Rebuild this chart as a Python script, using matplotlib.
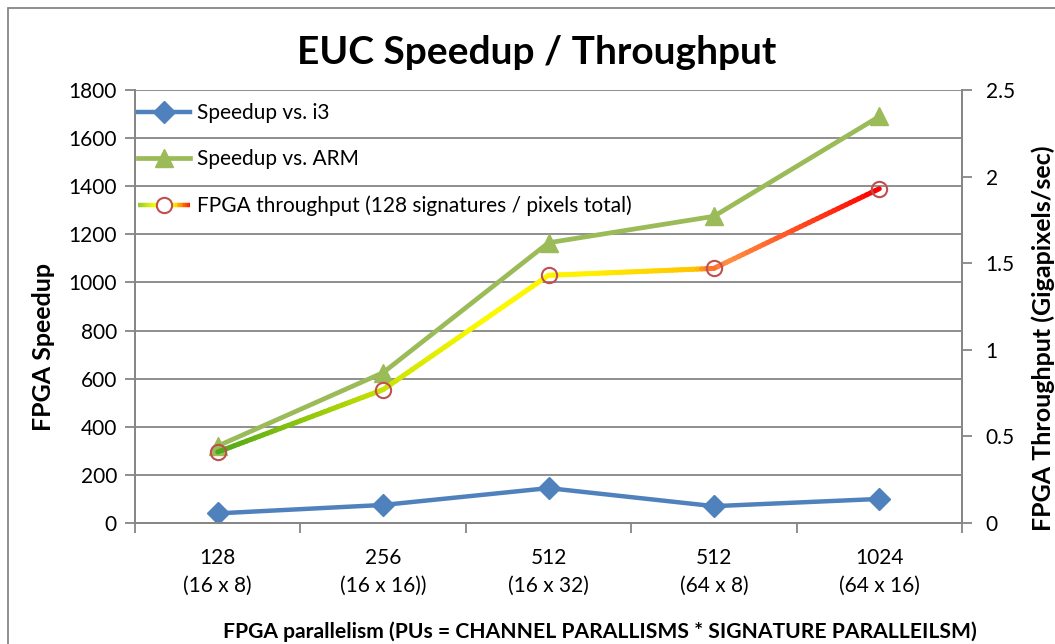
import numpy as np
import matplotlib
matplotlib.use("Agg")
import matplotlib.pyplot as plt
from matplotlib.collections import LineCollection
from matplotlib.colors import LinearSegmentedColormap
from matplotlib.legend_handler import HandlerBase
from matplotlib.lines import Line2D
from matplotlib.patches import Rectangle

plt.rcParams['font.family'] = ['Lato', 'DejaVu Sans']

categories = ["128\n(16 x 8)", "256\n(16 x 16))", "512\n(16 x 32)", "512\n(64 x 8)", "1024\n(64 x 16)"]
speedup_i3 = [40, 75, 145, 70, 100]
speedup_arm = [320, 625, 1165, 1275, 1690]
throughput = [0.41, 0.77, 1.43, 1.47, 1.93]

BLUE = "#4f81bd"
GREEN = "#9bbb59"
CIRCLE = "#c0504d"
GRID = "#868686"
FS = 15
W, H = 1055, 644

# colour ramp along the x axis for the throughput line
ramp = LinearSegmentedColormap.from_list("ramp", [
    (0.0, "#3e9a1c"), (0.1, "#4ea61a"), (0.3, "#c8e200"), (0.42, "#fafa00"),
    (0.55, "#fff000"), (0.68, "#ffc400"), (0.7, "#ff6a30"), (0.72, "#ff9040"),
    (0.9, "#ff0000"), (1.0, "#ff0000")])
legend_ramp = LinearSegmentedColormap.from_list("leg", ["#9acd32", "#ffff00", "#ffff00", "#ff2000"])


def gradient_segments(x, y, steps=40):
    segs, pos = [], []
    for i in range(len(x) - 1):
        t = np.linspace(0, 1, steps + 1)
        xs = x[i] + (x[i + 1] - x[i]) * t
        ys = y[i] + (y[i + 1] - y[i]) * t
        for j in range(steps):
            segs.append([(xs[j], ys[j]), (xs[j + 1], ys[j + 1])])
            pos.append((xs[j] + xs[j + 1]) / 2)
    return segs, np.array(pos)


class GradientHandler(HandlerBase):
    def create_artists(self, legend, orig_handle, xdescent, ydescent,
                       width, height, fontsize, trans):
        n = 30
        xs = np.linspace(-xdescent, width - xdescent, n + 1)
        yc = height / 2 - ydescent
        segs = [[(xs[i], yc), (xs[i + 1], yc)] for i in range(n)]
        lc = LineCollection(segs, colors=legend_ramp(np.linspace(0, 1, n)),
                            linewidths=3.2, transform=trans, capstyle='butt')
        mk = Line2D([width / 2 - xdescent], [yc], marker='o', ms=11, mfc='white',
                    mec=CIRCLE, mew=1.5, ls='none', transform=trans)
        return [lc, mk]


fig = plt.figure(figsize=(W / 100, H / 100), dpi=100)
ax = fig.add_axes([135 / W, 1 - 523 / H, (962 - 135) / W, (523 - 90) / H])
ax2 = ax.twinx()

x = np.arange(len(categories))
ax.set_xlim(-0.5, len(categories) - 0.5)
ax.set_ylim(0, 1800)
ax2.set_ylim(0, 2.5)

ax.set_yticks(np.arange(0, 1801, 200))
ax2.set_yticks([0, 0.5, 1, 1.5, 2, 2.5])
ax2.set_yticklabels(["0", "0.5", "1", "1.5", "2", "2.5"])
ax.set_xticks(x)
ax.set_xticklabels(categories)
ax.set_xticks(np.arange(len(categories) + 1) - 0.5, minor=True)

ax.grid(axis='y', color=GRID, lw=1.3)
ax.set_axisbelow(True)
for a in (ax, ax2):
    a.spines['top'].set_visible(False)
    for s in ('left', 'right', 'bottom'):
        a.spines[s].set_color(GRID)
        a.spines[s].set_linewidth(1.3)
ax.tick_params(axis='y', length=7, width=1.3, color=GRID, labelsize=FS, pad=6)
ax2.tick_params(axis='y', length=7, width=1.3, color=GRID, labelsize=FS, pad=10)
ax.tick_params(axis='x', which='major', length=0, labelsize=FS, pad=18)
ax.tick_params(axis='x', which='minor', length=7, width=1.3, color=GRID)
for lbl in ax.get_xticklabels():
    lbl.set_linespacing(1.5)

h1, = ax.plot(x, speedup_i3, color=BLUE, lw=3.2, marker='D', ms=11, label="Speedup vs. i3")
h2, = ax.plot(x, speedup_arm, color=GREEN, lw=3.4, marker='^', ms=13, label="Speedup vs. ARM")

segs, pos = gradient_segments(x, throughput)
frac = (pos + 0.5) / len(categories)
ax2.add_collection(LineCollection(segs, colors=ramp(frac), linewidths=3.6, capstyle='round'))
ax2.plot(x, throughput, ls='none', marker='o', ms=11, mfc='none', mec=CIRCLE, mew=1.5)

h3 = Line2D([], [], label="FPGA throughput (128 signatures / pixels total)")
ax2.legend([h1, h2, h3], [h1.get_label(), h2.get_label(), h3.get_label()],
           handler_map={h3: GradientHandler()}, loc='upper left',
           bbox_to_anchor=(130 / W, 1 - 95 / H), bbox_transform=fig.transFigure,
           frameon=False, fontsize=FS, handlelength=2.5, handletextpad=0.3,
           labelspacing=1.25, borderaxespad=0)

fig.text(44 / W, 1 - 347 / H, "FPGA Speedup", rotation=90, ha='center', va='center',
         fontsize=18, fontweight='bold')
fig.text(1055 / W, 1 - 338 / H, "FPGA Throughput (Gigapixels/sec)", rotation=90,
         ha='right', va='center', fontsize=18, fontweight='bold')

fig.text(537 / W, 1 - 52 / H, "EUC Speedup / Throughput", ha='center', va='center',
         fontsize=28, fontweight='bold')
fig.text(600 / W, 1 - 632 / H,
         "FPGA parallelism (PUs = CHANNEL PARALLISMS * SIGNATURE PARALLEILSM)",
         ha='center', va='center', fontsize=15.2, fontweight='bold')

# chart frame, only its top and left edges fall inside the image
fig.patches.append(Rectangle((8 / W, -0.1), 1.2, 1.1 - 8 / H, transform=fig.transFigure,
                             fill=False, edgecolor=GRID, lw=1.3))

fig.savefig("out.png", dpi=100)
